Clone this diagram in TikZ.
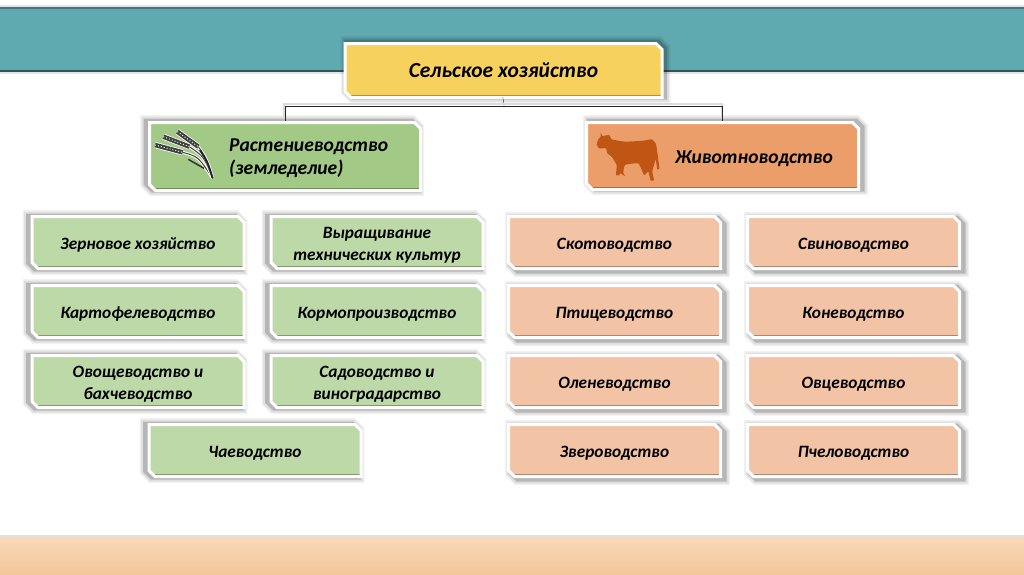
\documentclass[tikz,border=0pt]{standalone}
\usepackage{fontspec}
\setmainfont{Carlito}
\usetikzlibrary{positioning, shapes.misc, shadows}
\definecolor{mygold}{RGB}{246, 209, 94}
\definecolor{mygreen}{RGB}{163, 201, 134}
\definecolor{myorange}{RGB}{236, 158, 106}
\definecolor{mylightgreen}{RGB}{189, 217, 168}
\definecolor{mylightorange}{RGB}{242, 195, 165}
\definecolor{myteal}{RGB}{95, 169, 176}
\definecolor{mysandtop}{RGB}{250, 216, 184}
\definecolor{mysandbottom}{RGB}{243, 198, 152}
\definecolor{mycow}{RGB}{192, 86, 20}
\tikzset{
    softshadow/.style 2 args={
        drop shadow={shadow xshift=#1, shadow yshift=#2, opacity=.05, fill=none, draw=black, line width=13pt},
        drop shadow={shadow xshift=#1, shadow yshift=#2, opacity=.08, fill=none, draw=black, line width=10pt},
        drop shadow={shadow xshift=#1, shadow yshift=#2, opacity=.18, fill=none, draw=black, line width=6pt}
    },
    snipbox/.style={
        chamfered rectangle, chamfered rectangle corners={north east, south west},
        chamfered rectangle xsep=11pt, chamfered rectangle ysep=11pt,
        draw=white, line width=3pt, fill=#1, inner sep=0pt, outer sep=1.5pt,
        execute at begin node=\strut,
        path picture={
            \fill[#1!70!black] ([yshift=2.5pt]path picture bounding box.south west) rectangle (path picture bounding box.south east);
            \fill[#1!70!white] ([yshift=-1.5pt]path picture bounding box.north west) rectangle (path picture bounding box.north east);
        }
    },
    greenbox/.style={snipbox=mylightgreen, softshadow={-3pt}{0pt}, minimum width=212pt, minimum height=52pt},
    orangebox/.style={snipbox=mylightorange, softshadow={3pt}{-2pt}, minimum width=212pt, minimum height=52pt},
    boxtext/.style={font=\bfseries\itshape\fontsize{17.3}{22}\selectfont, align=center, inner sep=0pt},
    headtext/.style={font=\bfseries\itshape\fontsize{19.6}{23}\selectfont, align=left, inner sep=0pt},
    connector/.style={black!85, preaction={draw=black!14, line width=2pt, transform canvas={xshift=-1pt, yshift=2pt}}}
}
\begin{document}
\begin{tikzpicture}[x=1pt, y=-1pt, node distance=14pt and 24pt]
    \useasboundingbox (0,0) rectangle (1024,574);
    \fill[white] (0,0) rectangle (1024,574);

    % Bands
    \fill[black!10] (0,5) rectangle (1024,8);
    \fill[myteal] (0,8) rectangle (1024,71);
    \fill[myteal!70!black] (0,7) rectangle (1024,8.5);
    \fill[myteal!50!black] (0,70) rectangle (1024,72);
    \fill[black!10] (0,72) rectangle (1024,74);
    \fill[black!12] (0,535) rectangle (1024,537);
    \shade[top color=mysandtop, bottom color=mysandbottom] (0,537) rectangle (1024,574);

    % Top box
    \node[snipbox=mygold, softshadow={2pt}{1pt}, minimum width=317pt, minimum height=54pt] (farm) at (503.5,70.5) {};
    \node[font=\bfseries\itshape\fontsize{21.5}{25}\selectfont] (farmtext) at (farm) {Сельское хозяйство};

    % Heads
    \node[snipbox=mygreen, softshadow={-3pt}{1pt}, minimum width=271pt, minimum height=68pt] (crops) at (285,156.5) {};
    \node[snipbox=myorange, softshadow={3pt}{1pt}, minimum width=272pt, minimum height=67pt] (stock) at (722.5,156) {};
    \node[headtext, anchor=west] (cropstext) at ([xshift=81pt, yshift=-2pt]crops.west) {Растениеводство\\(земледелие)};
    \node[headtext, anchor=west] (stocktext) at ([xshift=90pt, yshift=-3pt]stock.west) {Животноводство};

    % Connectors
    \coordinate (hub) at (504,106);
    \draw[connector] (farm.south) -- (hub);
    \draw[connector] (hub) -| (crops.north);
    \draw[connector] (hub) -| (stock.north);

    % Crop boxes
    \node[greenbox] (grain) at (138,242.5) {};
    \node[greenbox, right=of grain] (tech) {};
    \node[greenbox, below=of grain] (potato) {};
    \node[greenbox, right=of potato] (fodder) {};
    \node[greenbox, below=15pt of potato] (veg) {};
    \node[greenbox, right=of veg] (garden) {};
    \node[greenbox] (tea) at (255,450.5) {};

    % Stock boxes
    \node[orangebox] (cattle) at (614.5,242.5) {};
    \node[orangebox, right=of cattle] (pigs) {};
    \node[orangebox, below=of cattle] (birds) {};
    \node[orangebox, right=of birds] (horses) {};
    \node[orangebox, below=15pt of birds] (deer) {};
    \node[orangebox, right=of deer] (sheep) {};
    \node[orangebox, below=of deer] (fur) {};
    \node[orangebox, right=of fur] (bees) {};

    % Box labels
    \foreach \name/\label in {
        grain/{Зерновое хозяйство}, tech/{Выращивание\\технических культур},
        potato/{Картофелеводство}, fodder/{Кормопроизводство},
        veg/{Овощеводство и\\бахчеводство}, garden/{Садоводство и\\виноградарство},
        tea/{Чаеводство}, cattle/{Скотоводство}, pigs/{Свиноводство},
        birds/{Птицеводство}, horses/{Коневодство}, deer/{Оленеводство},
        sheep/{Овцеводство}, fur/{Звероводство}, bees/{Пчеловодство}}
    {
        \node[boxtext] (\name text) at ([yshift=-2.5pt]\name) {\label};
    }

    % Wheat
    \begin{scope}[shift={(130,100)}, scale=1/3]
        \foreach \ax/\ay/\bx/\by/\mx/\my in {75/135/158/157/205/170, 100/110/178/140/222/170, 142/95/205/140/232/180}
        {
            \draw[white, line width=3pt] (\bx,\by) .. controls (\mx,\my) .. (248,235);
            \draw[black!75, line width=1pt] (\bx,\by) .. controls (\mx,\my) .. (248,235);
            \draw[white, line width=6pt] (\ax,\ay) -- (\bx,\by);
            \draw[black!75, line width=4.5pt] (\ax,\ay) -- (\bx,\by);
            \draw[white!80!mygreen, line width=1pt, dash pattern=on 1pt off 2pt] (\ax,\ay) -- (\bx,\by);
        }
        \draw[black!80, line width=1.5pt] (175,178) -- (222,205);
        \draw[black!85, line width=2pt] (210,150) .. controls (232,185) .. (248,235);
    \end{scope}

    % Cow
    \begin{scope}[shift={(570,100)}, scale=1/3]
        \fill[mycow] plot[smooth cycle, tension=.25] coordinates {
            (92,97) (97,108) (118,105) (125,118) (165,125) (220,122) (245,118) (258,132)
            (263,165) (268,205) (262,208) (257,178) (252,195) (247,215) (252,240) (242,242)
            (235,215) (222,225) (205,190) (165,195) (160,218) (165,228) (150,220) (148,226)
            (138,225) (140,195) (125,170) (112,160) (108,145) (88,145) (80,135) (85,118) (92,110)};
    \end{scope}
\end{tikzpicture}
\end{document}
